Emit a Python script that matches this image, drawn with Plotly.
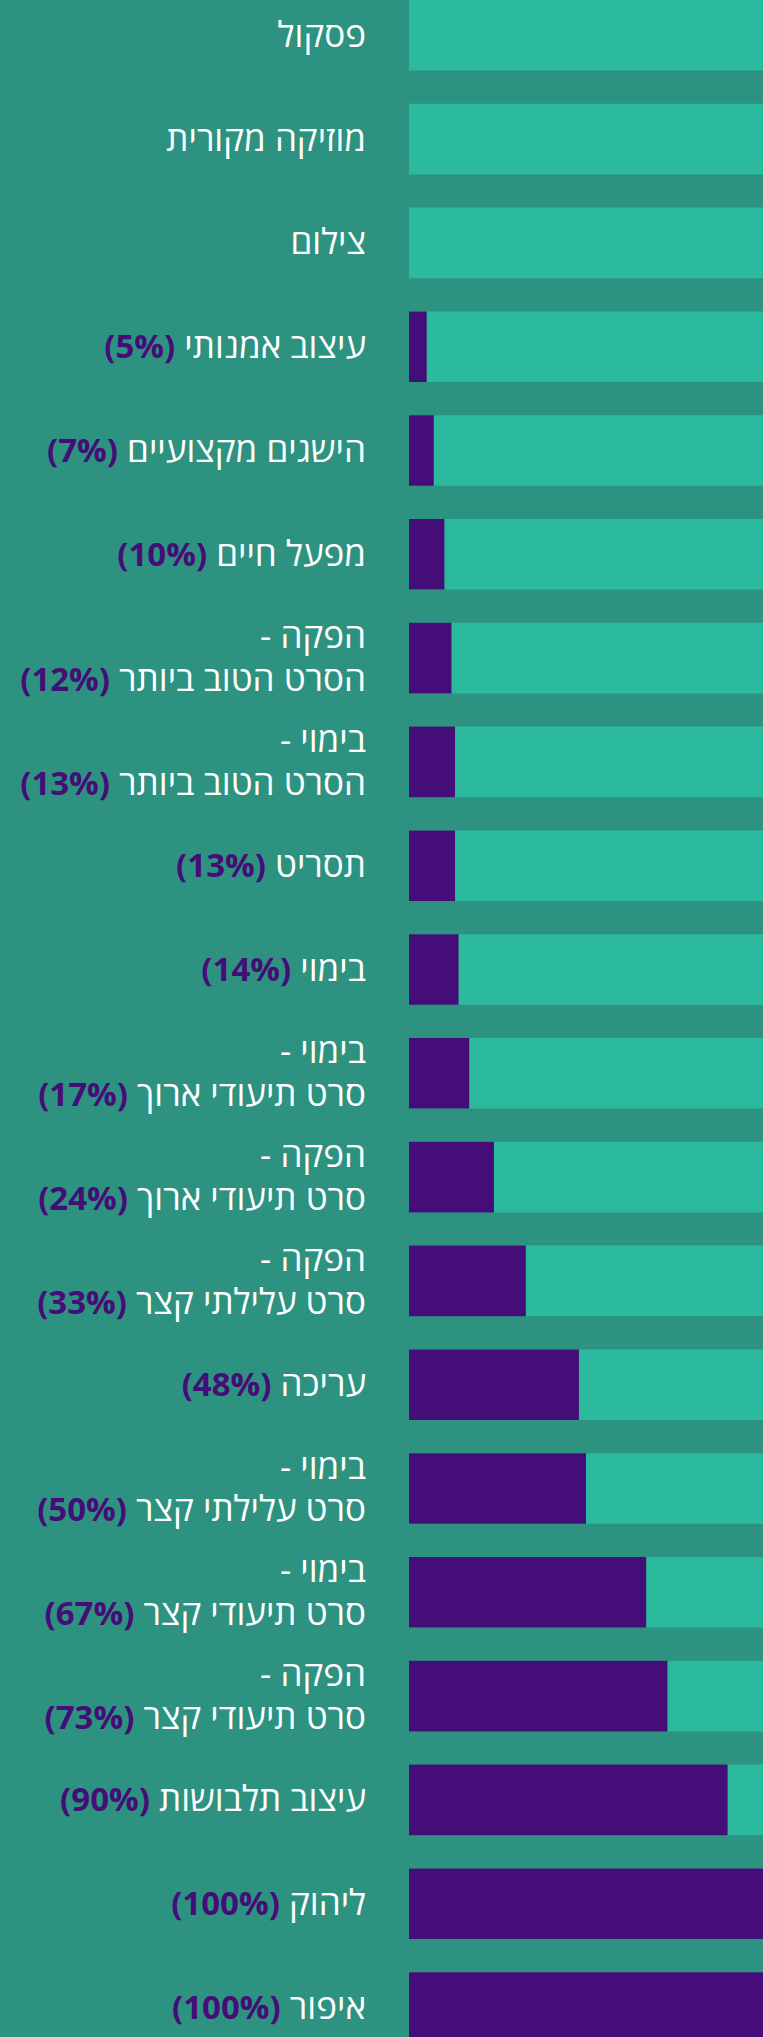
import plotly.graph_objects as go

# Categories, top to bottom
categories = [
    "פסקול",
    "מוזיקה מקורית",
    "צילום",
    "עיצוב אמנותי",
    "הישגים מקצועיים",
    "מפעל חיים",
    "הפקה - הסרט הטוב ביותר",
    "בימוי - הסרט הטוב ביותר",
    "תסריט",
    "בימוי",
    "בימוי - סרט תיעודי ארוך",
    "הפקה - סרט תיעודי ארוך",
    "הפקה - סרט עלילתי קצר",
    "עריכה",
    "בימוי - סרט עלילתי קצר",
    "בימוי - סרט תיעודי קצר",
    "הפקה - סרט תיעודי קצר",
    "עיצוב תלבושות",
    "ליהוק",
    "איפור",
]
percent_values = [0, 0, 0, 5, 7, 10, 12, 13, 13, 14, 17, 24, 33, 48, 50, 67, 73, 90, 100, 100]
full_values = [100] * len(categories)

BG = "#2d9380"
LIGHT = "#2bba9d"
PURPLE = "#450d77"
RLM = "\u200f"
HEB_SIZE = 35
PCT_SIZE = 33


def heb(t):
    return f"<span style='font-size:{HEB_SIZE}px'>{t}</span>"


def make_label(name, v):
    if " - " in name:
        a, b = name.split(" - ", 1)
        first = heb(a + " -" + RLM) + "<br>"
    else:
        first, b = "", name
    if v > 0:
        last = (heb(b + " ") +
                f"<b><span style='color:{PURPLE};font-size:{PCT_SIZE}px'>({v}%){RLM}</span></b>")
    else:
        last = heb(b + RLM)
    return first + last


ticktext = [make_label(c, v) for c, v in zip(categories, percent_values)]
idx = list(range(len(categories)))

fig = go.Figure()
fig.add_trace(go.Bar(
    y=idx, x=full_values, orientation="h",
    marker=dict(color=LIGHT, line=dict(width=0)),
    width=0.68, hoverinfo="skip", showlegend=False,
))
fig.add_trace(go.Bar(
    y=idx, x=percent_values, orientation="h",
    marker=dict(color=PURPLE, line=dict(width=0)),
    width=0.68, hoverinfo="skip", showlegend=False,
))

fig.update_layout(
    width=763, height=2037,
    margin=dict(l=409, r=0, t=0, b=0),
    paper_bgcolor=BG, plot_bgcolor=BG,
    barmode="overlay",
    font=dict(family="Open Sans, DejaVu Sans, sans-serif", size=33, color="white"),
    xaxis=dict(range=[0, 100], visible=False, fixedrange=True),
    yaxis=dict(
        range=[19.284, -0.34],
        tickmode="array", tickvals=idx, ticktext=ticktext,
        showgrid=False, zeroline=False, showline=False,
        ticks="", ticklabelstandoff=42,
        tickfont=dict(family="Open Sans, DejaVu Sans, sans-serif", size=33, color="white"),
        fixedrange=True,
    ),
)

fig.write_html(
    "out.html",
    config={"displayModeBar": False},
    post_script="document.body.style.margin='0';document.body.style.background='" + BG + "';",
)
